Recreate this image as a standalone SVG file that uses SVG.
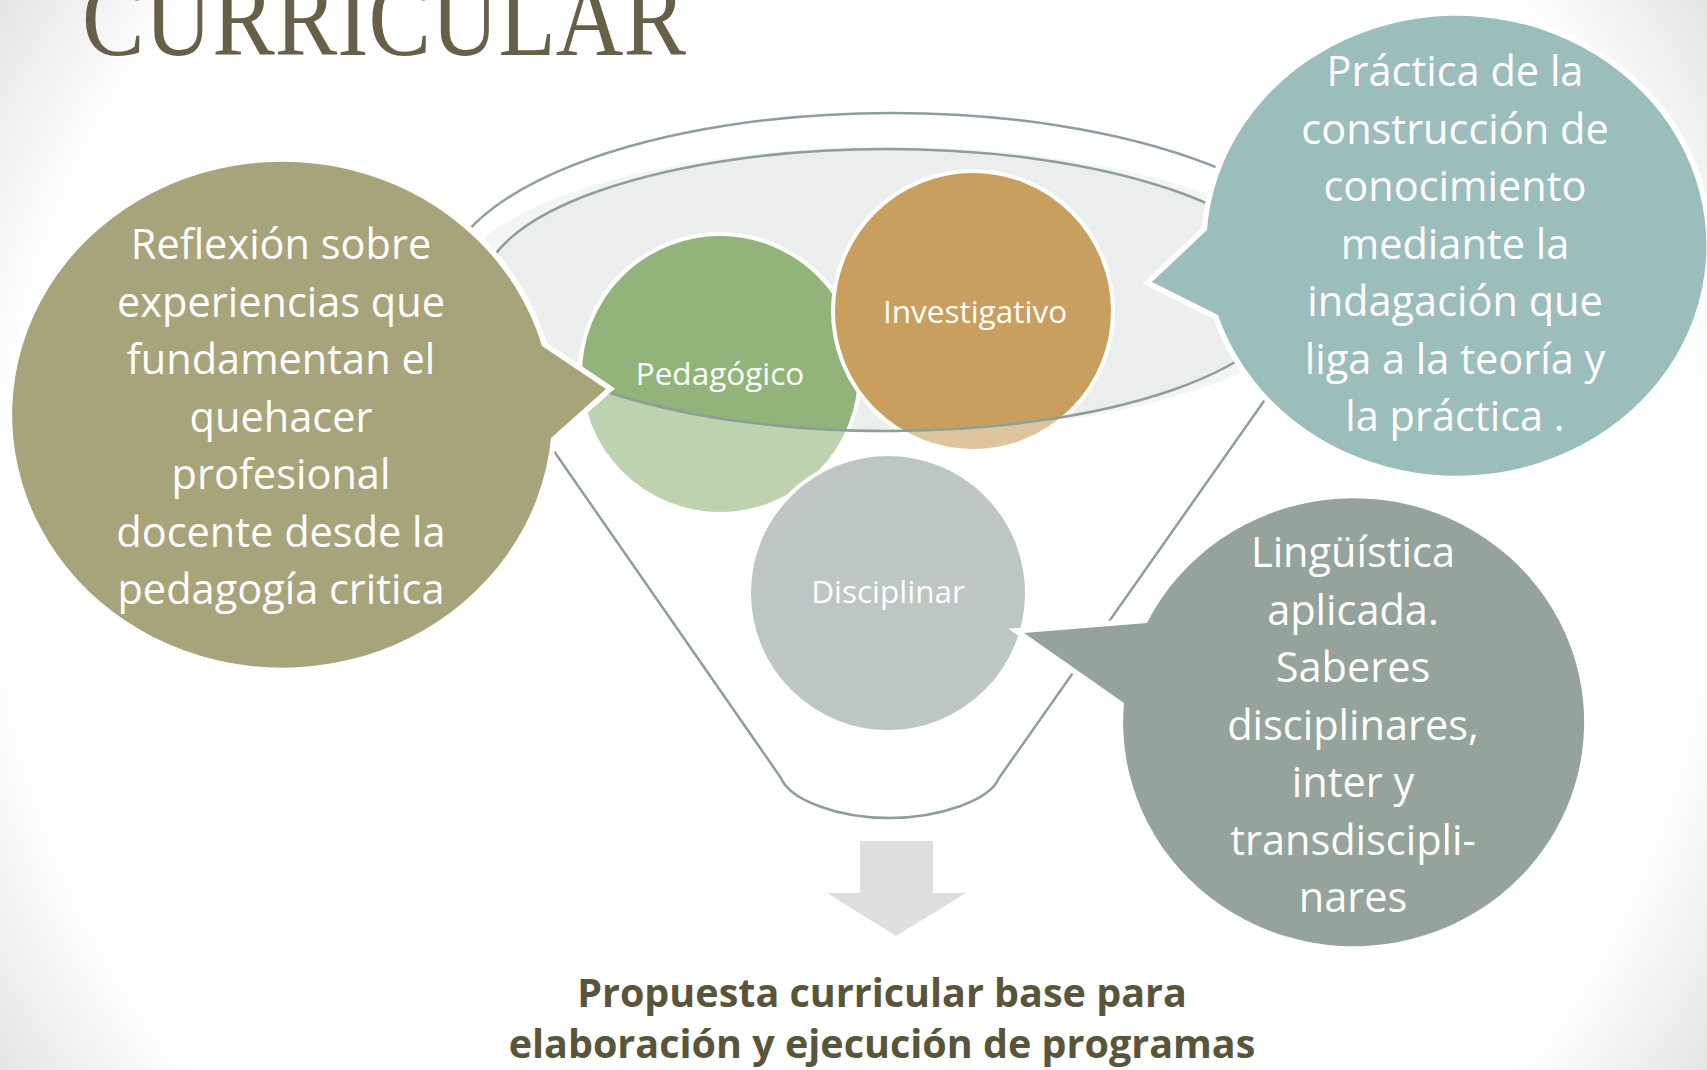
<svg xmlns="http://www.w3.org/2000/svg" width="1707" height="1070" viewBox="0 0 1707 1070">
  <defs>
    <radialGradient id="bg" gradientUnits="userSpaceOnUse" cx="853" cy="535" r="1010">
      <stop offset="0" stop-color="#FFFFFF"/>
      <stop offset="0.84" stop-color="#FFFFFF"/>
      <stop offset="1" stop-color="#E4E4E4"/>
    </radialGradient>
    <style>
      .line { fill: none; stroke: #8E9E98; stroke-width: 2.5; }
      .circ { stroke: #FFFFFF; stroke-width: 4; }
      .lbl { font-family: "Open Sans", "Liberation Sans", sans-serif; font-size: 31.5px; fill: #FFFFFF; text-anchor: middle; }
      .bub { stroke: #FFFFFF; stroke-width: 11; stroke-linejoin: miter; paint-order: stroke fill; }
      .btxt { font-family: "Open Sans", "Liberation Sans", sans-serif; font-size: 41.5px; fill: #FFFFFF; text-anchor: middle; }
      .foot { font-family: "Open Sans", "Liberation Sans", sans-serif; font-size: 39.5px; font-weight: bold; fill: #58553A; text-anchor: middle; }
    </style>
  </defs>

  <rect x="0" y="0" width="1707" height="1070" fill="url(#bg)"/>

  <text x="82" y="55" font-family="'Liberation Serif', serif" font-size="110" fill="#675F47" textLength="604" lengthAdjust="spacingAndGlyphs">CURRICULAR</text>

  <g id="funnel-mouth">
    <ellipse cx="887" cy="290" rx="432" ry="143" fill="#ECEEED"/>
  </g>

  <g id="node-pedagogico">
    <circle class="circ" cx="720" cy="374" r="140" fill="#92B47B"/>
  </g>
  <g id="node-investigativo">
    <circle class="circ" cx="973" cy="311" r="140" fill="#C89F5E"/>
  </g>

  <g id="connectors">
    <path d="M 442 290 A 450 177 0 0 1 1342 290 L 999 778 C 990 800 940 818 889 818 C 838 818 790 800 781 778 Z M 482 290 A 405 141 0 1 0 1292 290 A 405 141 0 1 0 482 290 Z" fill="#FFFFFF" fill-opacity="0.4" fill-rule="evenodd" stroke="none"/>
    <path class="line" d="M 442 290 A 450 177 0 0 1 1342 290 L 999 778 C 990 800 940 818 889 818 C 838 818 790 800 781 778 Z"/>
    <ellipse class="line" cx="887" cy="290" rx="405" ry="141"/>
    <polygon points="860,841 933,841 933,893 966,893 896,936 827,893 860,893" fill="#DDDFDE"/>
  </g>

  <g id="labels-top">
    <text class="lbl" x="720" y="385">Pedagógico</text>
    <text class="lbl" x="975" y="323">Investigativo</text>
  </g>

  <g id="node-disciplinar">
    <circle class="circ" cx="888" cy="593" r="139" fill="#BEC6C3"/>
    <text class="lbl" x="888" y="603">Disciplinar</text>
  </g>

  <g id="bubble-left">
    <path class="bub" d="M 542 346 L 606 389 L 551 438 A 270 253 0 1 1 542 346 Z" fill="#A7A47B"/>
    <text class="btxt" x="281" y="259">Reflexión sobre</text>
    <text class="btxt" x="281" y="316.5">experiencias que</text>
    <text class="btxt" x="281" y="374">fundamentan el</text>
    <text class="btxt" x="281" y="431.5">quehacer</text>
    <text class="btxt" x="281" y="489">profesional</text>
    <text class="btxt" x="281" y="546.5">docente desde la</text>
    <text class="btxt" x="281" y="604">pedagogía critica</text>
  </g>

  <g id="bubble-top-right">
    <path class="bub" d="M 1218 315 L 1152 282 L 1207 230 A 250 230 0 1 1 1218 315 Z" fill="#9BBDBC"/>
    <text class="btxt" x="1455" y="86">Práctica de la</text>
    <text class="btxt" x="1455" y="143.5">construcción de</text>
    <text class="btxt" x="1455" y="201">conocimiento</text>
    <text class="btxt" x="1455" y="258.5">mediante la</text>
    <text class="btxt" x="1455" y="316">indagación que</text>
    <text class="btxt" x="1455" y="373.5">liga a la teoría y</text>
    <text class="btxt" x="1455" y="431">la práctica .</text>
  </g>

  <g id="bubble-bottom-right">
    <path class="bub" d="M 1147 623 L 1024 633 L 1124 703 A 230.5 224 0 1 0 1147 623 Z" fill="#94A39B"/>
    <text class="btxt" x="1353" y="567">Lingüística</text>
    <text class="btxt" x="1353" y="624.5">aplicada.</text>
    <text class="btxt" x="1353" y="682">Saberes</text>
    <text class="btxt" x="1353" y="739.5">disciplinares,</text>
    <text class="btxt" x="1353" y="797">inter y</text>
    <text class="btxt" x="1353" y="854.5">transdiscipli-</text>
    <text class="btxt" x="1353" y="912">nares</text>
  </g>

  <g id="result">
    <text class="foot" x="882" y="1007">Propuesta curricular base para</text>
    <text class="foot" x="882" y="1058">elaboración y ejecución de programas</text>
  </g>
</svg>
